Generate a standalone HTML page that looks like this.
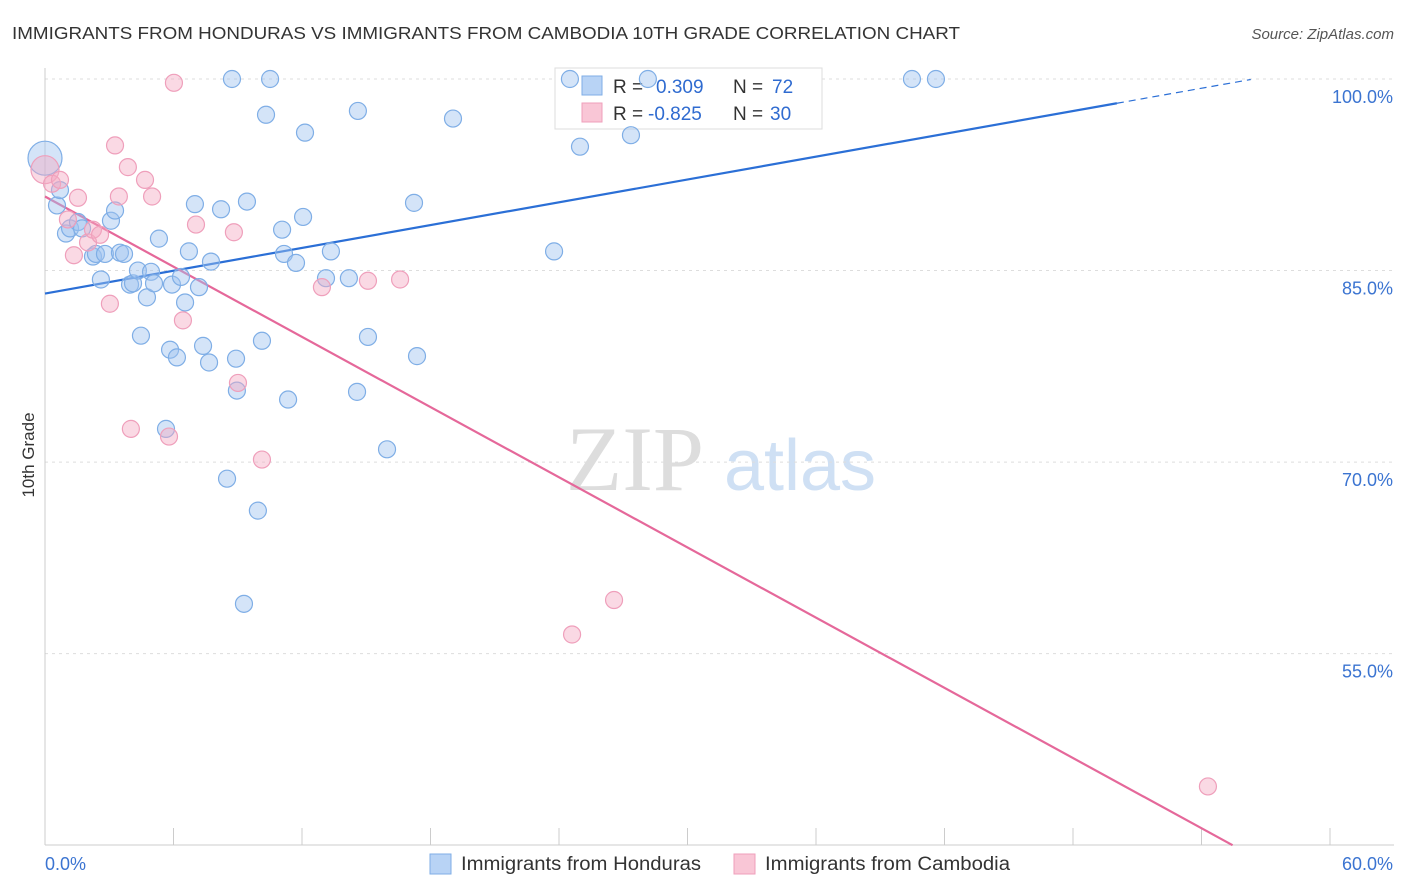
<!DOCTYPE html>
<html><head><meta charset="utf-8"><style>
body{margin:0;background:#fff;font-family:"Liberation Sans",sans-serif;}
svg{display:block}
</style></head><body>
<svg id="c" width="1406" height="892">
<text x="12" y="39" font-size="17.5" fill="#333" textLength="948" lengthAdjust="spacingAndGlyphs">IMMIGRANTS FROM HONDURAS VS IMMIGRANTS FROM CAMBODIA 10TH GRADE CORRELATION CHART</text>
<text x="1394" y="39" font-size="15" fill="#555" text-anchor="end" font-style="italic">Source: ZipAtlas.com</text>
<text x="34" y="455" font-size="17" fill="#333" text-anchor="middle" transform="rotate(-90 34 455)">10th Grade</text>
<g><text x="635" y="490" font-size="92" fill="#ddd" text-anchor="middle" font-family="Liberation Serif,serif">ZIP</text><text x="800" y="490" font-size="72" fill="#cfe0f4" text-anchor="middle">atlas</text></g>
<g id="grid"></g><g id="axes"></g><g id="lines"></g>
<g>
<rect x="555" y="68" width="267" height="61" fill="#fff" stroke="#ddd"/>
<rect x="582" y="76" width="20" height="19" fill="#b8d3f5" stroke="#7faee6"/>
<rect x="582" y="103" width="20" height="19" fill="#f9c6d6" stroke="#ef9fbb"/>
<text x="613" y="93" font-size="19" fill="#333">R =</text><text x="656" y="93" font-size="19" fill="#2f6bd0">0.309</text>
<text x="733" y="93" font-size="19" fill="#333">N =</text><text x="772" y="93" font-size="19" fill="#2f6bd0">72</text>
<text x="613" y="120" font-size="19" fill="#333">R =</text><text x="648" y="120" font-size="19" fill="#2f6bd0">-0.825</text>
<text x="733" y="120" font-size="19" fill="#333">N =</text><text x="770" y="120" font-size="19" fill="#2f6bd0">30</text>
</g>
<g id="pts"></g>
<g>
<rect x="430" y="854" width="21" height="20" fill="#b8d3f5" stroke="#7faee6"/>
<text x="461" y="870" font-size="19" fill="#333" textLength="240" lengthAdjust="spacingAndGlyphs">Immigrants from Honduras</text>
<rect x="734" y="854" width="21" height="20" fill="#f9c6d6" stroke="#ef9fbb"/>
<text x="765" y="870" font-size="19" fill="#333" textLength="245" lengthAdjust="spacingAndGlyphs">Immigrants from Cambodia</text>
</g>
</svg>
<script>
const blueX=[0,0.56,0.70,0.98,1.17,1.54,1.73,2.24,2.38,2.61,2.80,3.08,3.27,3.50,3.69,3.97,4.11,4.34,4.48,4.76,4.95,5.09,5.32,5.65,5.84,5.93,6.16,6.35,6.54,6.72,7.00,7.19,7.38,7.66,7.75,8.22,8.50,8.73,8.92,8.96,9.43,9.29,9.94,10.13,10.32,10.51,11.07,11.16,11.35,11.72,12.05,12.14,13.12,13.35,14.19,14.57,14.61,15.08,15.97,17.23,17.37,19.05,23.77,24.51,24.98,27.36,28.15,40.48,41.60];
const blueY=[93.8,90.1,91.3,87.9,88.3,88.8,88.3,86.1,86.3,84.3,86.3,88.9,89.7,86.4,86.3,83.9,84.0,85.0,79.9,82.9,84.9,84.0,87.5,72.6,78.8,83.9,78.2,84.5,82.5,86.5,90.2,83.7,79.1,77.8,85.7,89.8,68.7,100,78.1,75.6,90.4,58.9,66.2,79.5,97.2,100,88.2,86.3,74.9,85.6,89.2,95.8,84.4,86.5,84.4,75.5,97.5,79.8,71.0,90.3,78.3,96.9,86.5,100,94.7,95.6,100,100,100];
const pinkX=[0,0.33,0.70,1.07,1.35,1.54,2.01,2.24,2.57,3.03,3.27,3.45,3.87,4.01,4.67,5.00,5.79,6.02,6.44,7.05,8.82,9.01,10.13,12.93,15.08,16.58,24.61,26.57,54.30];
const pinkY=[92.9,91.8,92.1,89.0,86.2,90.7,87.2,88.2,87.8,82.4,94.8,90.8,93.1,72.6,92.1,90.8,72.0,99.7,81.1,88.6,88.0,76.2,70.2,83.7,84.2,84.3,56.5,59.2,44.6];
const blueTrend=[83.2,98.1]; // y at x=0 and x=50.05
const pinkTrend=[90.8,40.0]; // y at x=0 and x=55.45
const xTicks=[0,6,12,18,24,30,36,42,48,54,60];
const yTicks=[100,85,70,55];
const X=v=>45+v/60*1285, Y=v=>79+(100-v)*12.77;
const NS='http://www.w3.org/2000/svg';
function mk(p,t,a){const e=document.createElementNS(NS,t);for(const k in a)e.setAttribute(k,a[k]);document.getElementById(p).appendChild(e);return e;}
yTicks.forEach(v=>{
 const l=mk('grid','line',{x1:45,x2:1394,y1:Y(v),y2:Y(v),stroke:'#ddd','stroke-dasharray':'3,4'});
 
 
 const t=mk('grid','text',{x:1393,y:Y(v)+24,'font-size':18,fill:'#3b74d1','text-anchor':'end'});t.textContent=v.toFixed(1)+'%';
 
 
});
const ax=mk('axes','line',{x1:45,x2:45,y1:68,y2:845,stroke:'#ccc'});


const bx=mk('axes','line',{x1:45,x2:1394,y1:845,y2:845,stroke:'#ccc'});


xTicks.forEach(v=>{const t=mk('axes','line',{x1:X(v),x2:X(v),y1:828,y2:845,stroke:'#ccc'});
 
 });
[[0,'start'],[60,'end']].forEach(([v,a])=>{const t=mk('axes','text',{x:v?1393:45,y:870,'font-size':18,fill:'#3b74d1','text-anchor':a});t.textContent=v.toFixed(1)+'%';
 
 });
const bs=(blueTrend[1]-blueTrend[0])/50.05;
let l1=mk('lines','line',{x1:X(0),y1:Y(blueTrend[0]),x2:X(50.05),y2:Y(blueTrend[1]),stroke:'#2b6fd6','stroke-width':2.2});


let l2=mk('lines','line',{x1:X(50.05),y1:Y(blueTrend[1]),x2:X(56.3),y2:Y(blueTrend[0]+bs*56.3),stroke:'#2b6fd6','stroke-width':1.2,'stroke-dasharray':'7,5'});


let l3=mk('lines','line',{x1:X(0),y1:Y(pinkTrend[0]),x2:X(55.45),y2:Y(pinkTrend[1]),stroke:'#e5689a','stroke-width':2.2});


function pts(xs,ys,fill,stroke,name,big){xs.forEach((x,i)=>{const c=mk('pts','circle',{cx:X(x),cy:Y(ys[i]),r:i===0?big:8.5,fill:fill,stroke:stroke,'stroke-width':1.2});
 
 });}
pts(blueX,blueY,'rgba(160,196,240,0.45)','#7faee6','honduras-point',17);
pts(pinkX,pinkY,'rgba(245,170,195,0.45)','#ef9fbb','cambodia-point',14);
</script>
</body></html>
